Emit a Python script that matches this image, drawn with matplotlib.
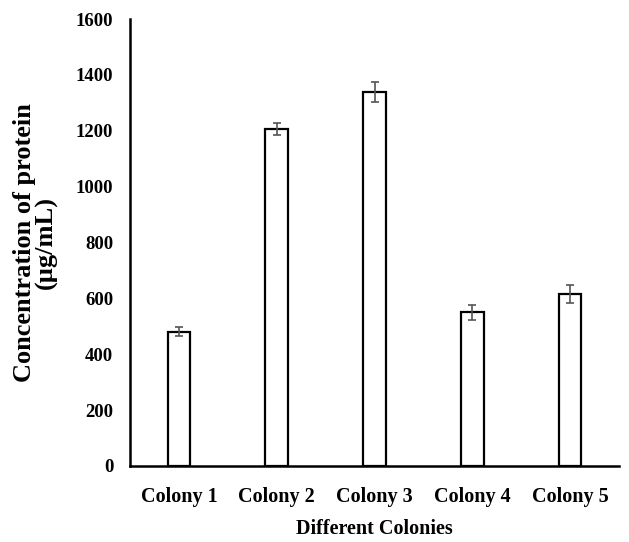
import matplotlib
matplotlib.use("Agg")
import matplotlib.pyplot as plt
import numpy as np

colonies = ['Colony 1', 'Colony 2', 'Colony 3', 'Colony 4', 'Colony 5']
protein = [481, 1207, 1338, 551, 615]
errors = [17, 21, 36, 27, 33]

plt.rcParams['font.family'] = ['Liberation Serif', 'DejaVu Serif']
plt.rcParams['font.weight'] = 'bold'

fig = plt.figure(figsize=(6.29, 5.42), dpi=100)
ax = fig.add_axes([130 / 629, 1 - 466 / 542, 489 / 629, 447 / 542])

x = np.arange(len(colonies))
ax.bar(x, protein, width=0.23, color='white', edgecolor='black', linewidth=1.6,
       yerr=errors, error_kw=dict(ecolor='#555555', elinewidth=1.2, capsize=2.6, capthick=1.2))

ax.set_xlim(-0.5, len(colonies) - 0.5)
ax.set_ylim(0, 1600)
ax.set_yticks(range(0, 1601, 200))
ax.set_xticks(x)
ax.set_xticklabels(colonies)
ax.tick_params(axis='y', length=0, labelsize=13.5, pad=12)
ax.tick_params(axis='x', length=0, labelsize=14.5, pad=15)
for lab in ax.get_xticklabels() + ax.get_yticklabels():
    lab.set_fontweight('bold')

ax.spines['top'].set_visible(False)
ax.spines['right'].set_visible(False)
ax.spines['left'].set_linewidth(1.8)
ax.spines['bottom'].set_linewidth(1.8)

ax.set_xlabel('Different Colonies', fontsize=14.5, fontweight='bold', labelpad=9)
ax.set_ylabel('Concentration of protein\n(µg/mL)', fontsize=19, fontweight='bold',
              linespacing=0.9)
ax.yaxis.set_label_coords(-72 / 489, 0.5)

fig.savefig('out.png', dpi=100)
